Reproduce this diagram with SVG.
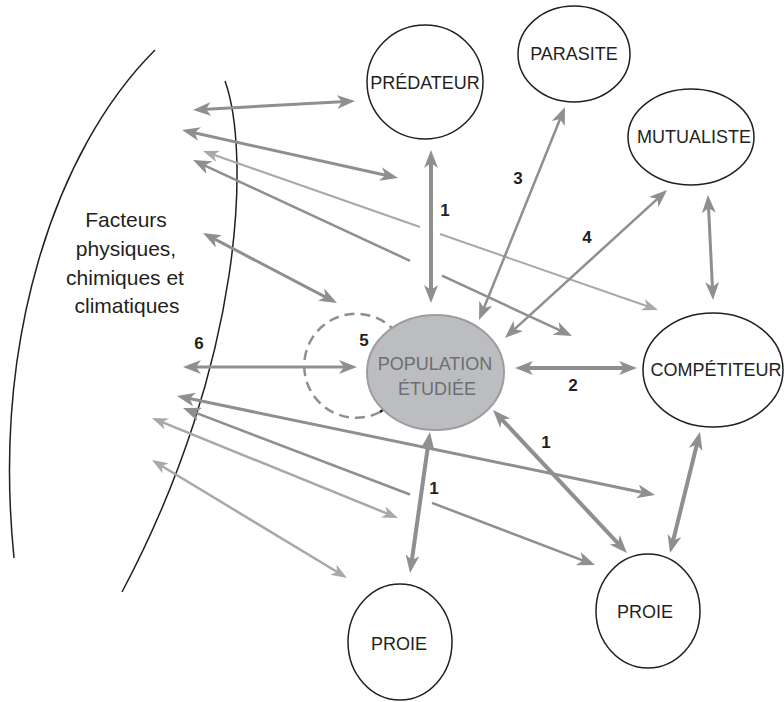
<svg xmlns="http://www.w3.org/2000/svg" width="784" height="702" viewBox="0 0 784 702">
<defs>
<style>
.node{fill:#ffffff;stroke:#231f20;stroke-width:1.5}
.lbl{font-family:"Liberation Sans",Arial,sans-serif;font-size:18px;fill:#231f20;text-anchor:middle}
.num{font-family:"Liberation Sans",Arial,sans-serif;font-size:17px;font-weight:bold;fill:#231f20;text-anchor:middle}
.d{fill:none;stroke:#8f8f8f;marker-start:url(#hd);marker-end:url(#hd)}
.l{fill:none;stroke:#a8a8a8;marker-start:url(#hl);marker-end:url(#hl)}
.w4{stroke-width:4}
.w3{stroke-width:3}
.w25{stroke-width:2.5}
.w2{stroke-width:2}
.curve{fill:none;stroke:#231f20;stroke-width:1.5}
</style>
<marker id="hd" viewBox="0 0 18 14" refX="9" refY="7" markerWidth="18" markerHeight="14" markerUnits="userSpaceOnUse" orient="auto-start-reverse">
<path d="M0,0 L18,7 L0,14 L5,7 z" fill="#8f8f8f"/>
</marker>
<marker id="hl" viewBox="0 0 16 12" refX="7" refY="6" markerWidth="16" markerHeight="12" markerUnits="userSpaceOnUse" orient="auto-start-reverse">
<path d="M0,0 L16,6 L0,12 L4.5,6 z" fill="#a8a8a8"/>
</marker>
<marker id="hb" viewBox="0 0 14 12" refX="7" refY="6" markerWidth="14" markerHeight="12" markerUnits="userSpaceOnUse" orient="auto">
<path d="M0,0 L14,6 L0,12 L4,6 z" fill="#231f20"/>
</marker>
</defs>
<rect width="784" height="702" fill="#ffffff"/>

<g id="environment">
<path class="curve" d="M155,50 C55,150 -8,340 14,558"/>
<path class="curve" d="M225,81 C250,150 245,360 122,592"/>
<text class="lbl" style="font-size:21px" x="126" y="227">Facteurs</text>
<text class="lbl" style="font-size:21px" x="126" y="256">physiques,</text>
<text class="lbl" style="font-size:21px" x="125" y="285">chimiques et</text>
<text class="lbl" style="font-size:21px" x="127" y="313">climatiques</text>
</g>

<g id="connectors">
<path class="d w3" d="M202,109.5 L346,101.5"/>
<path class="d w3" d="M190.8,132 L389.2,176"/>
<path class="l w2" style="marker-end:none" d="M211.5,154 L420,227"/>
<path class="l w2" style="marker-start:none" d="M440,234 L649.5,307"/>
<path class="d w25" style="marker-end:none" d="M201.2,163.8 L410,260.8"/>
<path class="d w25" style="marker-start:none" d="M442,275.6 L563.8,332.2"/>
<path class="d w3" d="M211,237.2 L329,298.8"/>
<path class="d w3" d="M192,367 L348,367"/>
<path class="d w3" d="M185.8,397.8 L646.2,493.2"/>
<path class="d w25" style="marker-end:none" d="M191.4,411.2 L410,494.5"/>
<path class="d w25" style="marker-start:none" d="M432,502.9 L586.6,561.8"/>
<path class="l w25" d="M160.3,421.4 L389.7,514.6"/>
<path class="l w25" d="M159.7,464.7 L339.3,573.3"/>
<path class="d w4" d="M431,159 L431,294"/>
<path class="d w25" d="M561.6,115.3 L482.4,311.7"/>
<path class="d w25" d="M660.4,196.1 L511.6,331.9"/>
<path class="d w4" d="M524,368 L628,368"/>
<path class="d w4" d="M499.2,416.6 L620.8,546.4"/>
<path class="d w4" d="M697.8,440.7 L672.2,544.3"/>
<path class="d w3" d="M708.4,204 L712.6,291"/>
<path class="d w4" d="M428.7,440.9 L411.3,564.1"/>
<path fill="none" stroke="#8f8f8f" stroke-width="2.5" stroke-dasharray="10 6" d="M380,412 A52,52 0 1 1 394,330"/>
<path fill="none" stroke="#231f20" stroke-width="2.5" marker-end="url(#hb)" d="M380,412 L392,403.5"/>
</g>

<g id="population">
<ellipse cx="435.5" cy="372.5" rx="68.5" ry="57.5" fill="#bcbdc0" stroke="#9d9d9f" stroke-width="2"/>
<text class="lbl" style="fill:#6d6e71" x="435" y="370">POPULATION</text>
<text class="lbl" style="fill:#6d6e71" x="437" y="395">ÉTUDIÉE</text>
</g>

<g id="predateur">
<ellipse class="node" cx="425" cy="82" rx="58" ry="57"/>
<text class="lbl" x="425" y="89">PRÉDATEUR</text>
</g>
<g id="parasite">
<ellipse class="node" cx="574" cy="54" rx="56" ry="48"/>
<text class="lbl" x="574" y="60">PARASITE</text>
</g>
<g id="mutualiste">
<ellipse class="node" cx="691" cy="137" rx="63" ry="48"/>
<text class="lbl" x="694" y="143">MUTUALISTE</text>
</g>
<g id="competiteur">
<ellipse class="node" cx="713" cy="370" rx="70" ry="57"/>
<text class="lbl" x="716" y="376">COMPÉTITEUR</text>
</g>
<g id="proie-droite">
<ellipse class="node" cx="648" cy="611" rx="52" ry="57"/>
<text class="lbl" x="645" y="618">PROIE</text>
</g>
<g id="proie-bas">
<ellipse class="node" cx="400" cy="642" rx="52" ry="58"/>
<text class="lbl" x="399" y="650">PROIE</text>
</g>

<g id="numbers">
<text class="num" x="445" y="216">1</text>
<text class="num" x="518" y="184">3</text>
<text class="num" x="587" y="243">4</text>
<text class="num" x="573" y="391">2</text>
<text class="num" x="546" y="448">1</text>
<text class="num" x="434" y="494">1</text>
<text class="num" x="364" y="346">5</text>
<text class="num" x="199" y="349">6</text>
</g>
</svg>
